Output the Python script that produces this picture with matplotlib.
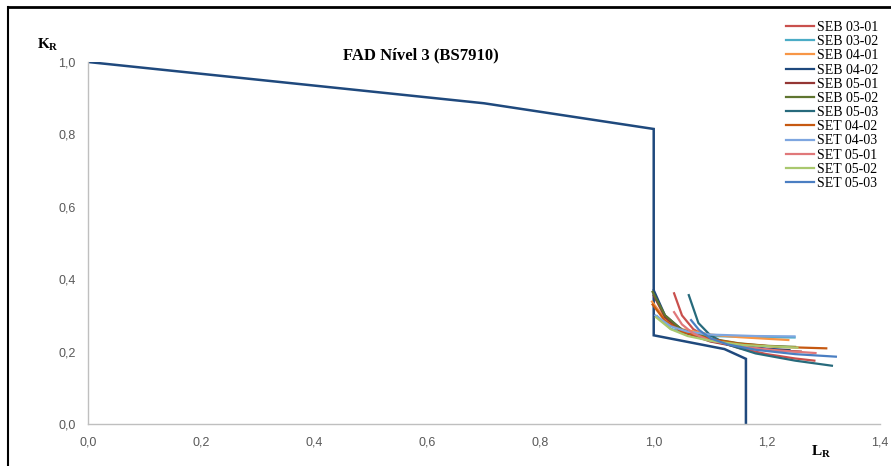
import matplotlib
matplotlib.use("Agg")
import matplotlib.pyplot as plt
from matplotlib.lines import Line2D

plt.rcParams["mathtext.fontset"] = "custom"
plt.rcParams["mathtext.rm"] = "Liberation Serif"
plt.rcParams["mathtext.bf"] = "Liberation Serif:bold"

# Failure assessment line, level 3 (BS7910)
fad_L = [0.0, 0.70, 1.00, 1.00, 1.125, 1.163, 1.163]
fad_K = [1.0, 0.886, 0.815, 0.245, 0.207, 0.180, 0.0]

# Assessment curves per specimen (L_R, K_R)
seb_03_01_L = [1.036, 1.050, 1.070, 1.100, 1.150, 1.200, 1.250, 1.284]
seb_03_01_K = [0.361, 0.300, 0.262, 0.235, 0.210, 0.193, 0.181, 0.175]

seb_03_02_L = [1.006, 1.030, 1.060, 1.100, 1.180, 1.249]
seb_03_02_K = [0.298, 0.263, 0.249, 0.243, 0.240, 0.239]

seb_04_01_L = [0.997, 1.020, 1.050, 1.100, 1.150, 1.238]
seb_04_01_K = [0.338, 0.290, 0.262, 0.247, 0.240, 0.232]

seb_04_02_L = [1.000, 1.020, 1.050, 1.100, 1.150, 1.200, 1.240]
seb_04_02_K = [0.370, 0.300, 0.260, 0.232, 0.217, 0.208, 0.204]

seb_05_01_L = [1.000, 1.020, 1.050, 1.100, 1.150, 1.200, 1.260]
seb_05_01_K = [0.355, 0.295, 0.255, 0.228, 0.213, 0.205, 0.200]

seb_05_02_L = [0.998, 1.020, 1.050, 1.100, 1.150, 1.200, 1.250]
seb_05_02_K = [0.365, 0.300, 0.260, 0.236, 0.223, 0.216, 0.213]

seb_05_03_L = [1.062, 1.079, 1.100, 1.130, 1.180, 1.250, 1.315]
seb_05_03_K = [0.356, 0.279, 0.245, 0.220, 0.195, 0.175, 0.161]

set_04_02_L = [0.998, 1.020, 1.050, 1.100, 1.150, 1.220, 1.305]
set_04_02_K = [0.330, 0.285, 0.255, 0.235, 0.222, 0.213, 0.209]

set_04_03_L = [1.003, 1.030, 1.060, 1.100, 1.180, 1.249]
set_04_03_K = [0.300, 0.270, 0.255, 0.247, 0.243, 0.242]

set_05_01_L = [1.036, 1.050, 1.070, 1.100, 1.150, 1.220, 1.286]
set_05_01_K = [0.309, 0.275, 0.250, 0.230, 0.215, 0.203, 0.196]

set_05_02_L = [1.004, 1.030, 1.060, 1.100, 1.160, 1.254]
set_05_02_K = [0.295, 0.262, 0.243, 0.230, 0.218, 0.211]

set_05_03_L = [1.066, 1.080, 1.100, 1.130, 1.180, 1.250, 1.322]
set_05_03_K = [0.287, 0.260, 0.237, 0.220, 0.205, 0.193, 0.186]

series = [
    ("SEB 03-01", seb_03_01_L, seb_03_01_K, "#C9504D"),
    ("SEB 03-02", seb_03_02_L, seb_03_02_K, "#4BACC6"),
    ("SEB 04-01", seb_04_01_L, seb_04_01_K, "#F79646"),
    ("SEB 04-02", seb_04_02_L, seb_04_02_K, "#1F497D"),
    ("SEB 05-01", seb_05_01_L, seb_05_01_K, "#943634"),
    ("SEB 05-02", seb_05_02_L, seb_05_02_K, "#5F7530"),
    ("SEB 05-03", seb_05_03_L, seb_05_03_K, "#276A7C"),
    ("SET 04-02", set_04_02_L, set_04_02_K, "#C65911"),
    ("SET 04-03", set_04_03_L, set_04_03_K, "#7EA6E0"),
    ("SET 05-01", set_05_01_L, set_05_01_K, "#E0787A"),
    ("SET 05-02", set_05_02_L, set_05_02_K, "#A9C86E"),
    ("SET 05-03", set_05_03_L, set_05_03_K, "#4A7EC2"),
]

x_ticks = [0.0, 0.2, 0.4, 0.6, 0.8, 1.0, 1.2, 1.4]
y_ticks = [0.0, 0.2, 0.4, 0.6, 0.8, 1.0]

serif = "Liberation Serif"

fig = plt.figure(figsize=(8.91, 4.66), dpi=100)
ax = fig.add_axes([88 / 891, 1 - 424 / 466, (880 - 88) / 891, (424 - 62) / 466])

ax.plot(fad_L, fad_K, color="#1F497D", lw=1.8, solid_joinstyle="miter", zorder=2)
for name, L, K, c in series:
    ax.plot(L, K, color=c, lw=1.6, label=name, zorder=3)

ax.set_xlim(0, 1.4)
ax.set_ylim(0, 1.0)
ax.set_xticks(x_ticks)
ax.set_yticks(y_ticks)
ax.set_xticklabels([f"{v:.1f}".replace(".", ",") for v in x_ticks])
ax.set_yticklabels([f"{v:.1f}".replace(".", ",") for v in y_ticks])
ax.tick_params(length=0, labelsize=9, labelcolor="#595959", pad=9)
for lab in ax.get_xticklabels() + ax.get_yticklabels():
    lab.set_fontfamily("Liberation Sans")

for side in ("top", "right"):
    ax.spines[side].set_visible(False)
for side in ("left", "bottom"):
    ax.spines[side].set_color("#BFBFBF")
    ax.spines[side].set_linewidth(1.0)

fig.text(421 / 891, 1 - 55 / 466, "FAD Nível 3 (BS7910)", fontfamily=serif,
         fontweight="bold", fontsize=12, ha="center", va="center")
fig.text(48 / 891, 1 - 45 / 466, r"$\mathbf{K_R}$", fontsize=11,
         ha="center", va="center")
fig.text(821 / 891, 1 - 452 / 466, r"$\mathbf{L_R}$", fontsize=11,
         ha="center", va="center")

leg = ax.legend(loc="upper left", bbox_to_anchor=(786 / 891, 1 - 21 / 466),
                bbox_transform=fig.transFigure, frameon=False,
                prop={"family": serif, "size": 10}, handlelength=2.0,
                handletextpad=0.2, labelspacing=0.085, borderaxespad=0,
                borderpad=0)

# outer frame (left and top edges)
fig.add_artist(Line2D([8 / 891, 8 / 891], [0, 1 - 7 / 466], transform=fig.transFigure,
                      color="black", lw=1.5))
fig.add_artist(Line2D([8 / 891, 1], [1 - 7 / 466, 1 - 7 / 466], transform=fig.transFigure,
                      color="black", lw=2.0))

fig.savefig("out.png", dpi=100)
